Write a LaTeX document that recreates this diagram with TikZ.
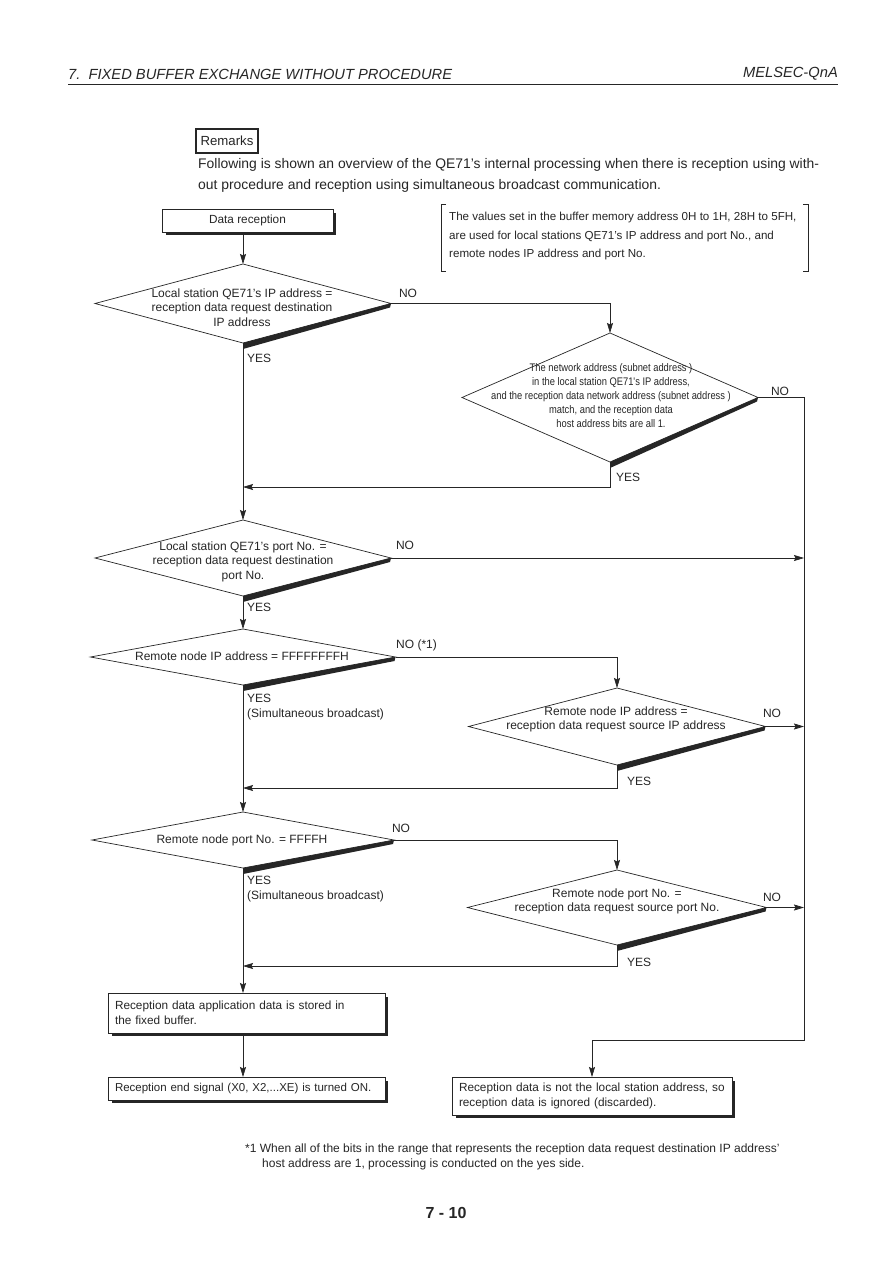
\documentclass[tikz,border=0pt]{standalone}
\usepackage{fontspec}
\setmainfont{Liberation Sans}
\newfontfamily\cond[FakeStretch=0.85]{Liberation Sans}
\usetikzlibrary{shapes.geometric,arrows.meta,calc}
\definecolor{ink}{gray}{0.15}
\newcommand\dshad[1]{\fill[ink] (#1.south) -- (#1.east) -- ($(#1.east)+(-1,4)$) -- ($(#1.south)+(0,6)$) -- cycle;}
\newcommand\bshad[1]{\draw[ink, line width=3pt] ($(#1.north east)+(1.5,4)$) -- ($(#1.south east)+(1.5,1.5)$) -- ($(#1.south west)+(4,1.5)$);}
\begin{document}
\begin{tikzpicture}[x=1pt,y=-1pt, font=\fontsize{12}{14.5}\selectfont, text=ink,
  ln/.style={draw=ink, line width=0.7pt},
  arr/.style={ln, -{Stealth[length=10pt,width=6pt,inset=1.5pt]}},
  dia/.style={diamond, draw=ink, line width=0.7pt, inner sep=0pt, outer sep=0pt},
  box/.style={draw=ink, line width=0.7pt, inner sep=0pt, outer sep=0pt, font=\fontsize{11.8}{15.5}\selectfont},
  lbl/.style={inner sep=0pt, anchor=west, align=left},
  ctr/.style={inner sep=0pt, align=center}]
\useasboundingbox[fill=white] (0,0) rectangle (893,1263);

% header
\node[lbl, font=\fontsize{14.7}{17}\selectfont\itshape] (hd) at (68,74) {7.\ \ FIXED BUFFER EXCHANGE WITHOUT PROCEDURE};
\node[inner sep=0pt, anchor=east, font=\fontsize{14.7}{17}\selectfont\itshape] (hr) at (838,74) {MELSEC-QnA};
\draw[ink, line width=1.6pt] (68,84.5) -- (838,84.5);

% remarks
\node[draw=ink, line width=1.1pt, minimum width=62pt, minimum height=24pt, inner sep=0pt, font=\fontsize{13.2}{16}\selectfont] (rm) at (227,141) {Remarks};
\node[lbl, font=\fontsize{13.9}{21}\selectfont] (par) at (198,175.5) {Following is shown an overview of the QE71's internal processing when there is reception using with-\\out procedure and reception using simultaneous broadcast communication.};

% note
\node[lbl, font=\fontsize{11.6}{18.5}\selectfont] (nt) at (449,236) {The values set in the buffer memory address 0H to 1H, 28H to 5FH,\\are used for local stations QE71's IP address and port No., and\\remote nodes IP address and port No.};
\draw[ln] (446,204) -- (441,204) -- (441,271) -- (446,271);
\draw[ln] (803,204) -- (808,204) -- (808,271) -- (803,271);

% boxes
\node[box, minimum width=171pt, minimum height=23pt] (db) at (247.5,220.5) {Data reception};
\node[box, minimum width=277pt, minimum height=40pt, text width=263pt, align=left] (st) at (246.5,1013) {Reception data application data is stored in\\the fixed buffer.};
\node[box, minimum width=277pt, minimum height=23pt, text width=263pt, align=left, font=\fontsize{11.5}{15}\selectfont] (en) at (246.5,1088.5) {Reception end signal (X0, X2,...XE) is turned ON.};
\node[box, minimum width=280pt, minimum height=38pt, text width=266pt, align=left] (dis) at (592,1096) {Reception data is not the local station address, so\\reception data is ignored (discarded).};

% diamonds
\node[dia, minimum width=296pt, minimum height=79pt] (d1) at (243,303.5) {};
\node[ctr] (t1) at (242,307.5) {Local station QE71's IP address =\\reception data request destination\\IP address};
\node[dia, minimum width=296pt, minimum height=129pt] (d2) at (610,397.5) {};
\node[ctr, font=\cond\fontsize{11}{14}\selectfont] (t2) at (611,396) {The network address (subnet address )\\in the local station QE71's IP address,\\and the reception data network address (subnet address )\\match, and the reception data\\host address bits are all 1.};
\node[dia, minimum width=296pt, minimum height=76pt] (d3) at (243,558) {};
\node[ctr] (t3) at (243,561.5) {Local station QE71's port No. =\\reception data request destination\\port No.};
\node[dia, minimum width=305pt, minimum height=56pt] (d4) at (243,657) {};
\node[ctr] (t4) at (242,656) {Remote node IP address = FFFFFFFFH};
\node[dia, minimum width=297pt, minimum height=77pt] (d5) at (617,726.5) {};
\node[ctr] (t5) at (616,719.5) {Remote node IP address =\\reception data request source IP address};
\node[dia, minimum width=302pt, minimum height=56pt] (d6) at (243,840) {};
\node[ctr] (t6) at (242,840) {Remote node port No. = FFFFH};
\node[dia, minimum width=299pt, minimum height=75pt] (d7) at (617,907.5) {};
\node[ctr] (t7) at (617,901.5) {Remote node port No. =\\reception data request source port No.};

\dshad{d1}\dshad{d2}\dshad{d3}\dshad{d4}\dshad{d5}\dshad{d6}\dshad{d7}
\bshad{db}\bshad{st}\bshad{en}\bshad{dis}

% junctions
\coordinate (j1) at (243,487);
\coordinate (j2) at (243,788);
\coordinate (j3) at (243,966);
\coordinate (rc) at (804,1040);

% connectors
\draw[arr] (db.south -| d1.north) -- (d1.north);
\draw[arr] (d1.east) -| (d2.north);
\draw[arr] (d1.south) -- (d3.north);
\draw[arr] (d2.south) |- (j1);
\draw[arr] (d2.east) -| (rc) -| (dis.north);
\draw[arr] (d3.east) -- (d3.east -| rc);
\draw[arr] (d3.south) -- (d4.north);
\draw[arr] (d4.east) -| (d5.north);
\draw[arr] (d5.east) -- (d5.east -| rc);
\draw[arr] (d5.south) |- (j2);
\draw[arr] (d4.south) -- (d6.north);
\draw[arr] (d6.east) -| (d7.north);
\draw[arr] (d7.east) -- (d7.east -| rc);
\draw[arr] (d7.south) |- (j3);
\draw[arr] (d6.south) -- (d6.south |- st.north);
\draw[arr] (st.south -| d6.south) -- (d6.south |- en.north);

% labels
\node[ctr] (n1) at (408,293) {NO};
\node[ctr] (n2) at (780,391) {NO};
\node[ctr] (n3) at (405,545) {NO};
\node[lbl] (n4) at (396,645) {NO (*1)};
\node[ctr] (n5) at (772,713) {NO};
\node[ctr] (n6) at (401,828) {NO};
\node[ctr] (n7) at (772,897) {NO};
\node[lbl] (y1) at (247,358) {YES};
\node[lbl] (y2) at (616,477) {YES};
\node[lbl] (y3) at (247,607) {YES};
\node[lbl] (y4) at (247,707) {YES\\(Simultaneous broadcast)};
\node[lbl] (y5) at (627,781) {YES};
\node[lbl] (y6) at (247,889) {YES\\(Simultaneous broadcast)};
\node[lbl] (y7) at (627,962) {YES};

% footnote and page number
\node[lbl, font=\fontsize{12}{15}\selectfont] (fn) at (245,1156.5) {*1 When all of the bits in the range that represents the reception data request destination IP address'\\\hspace*{17pt}host address are 1, processing is conducted on the yes side.};
\node[ctr, font=\fontsize{16}{18}\selectfont\bfseries] (pg) at (446,1213) {7 - 10};
\end{tikzpicture}
\end{document}
